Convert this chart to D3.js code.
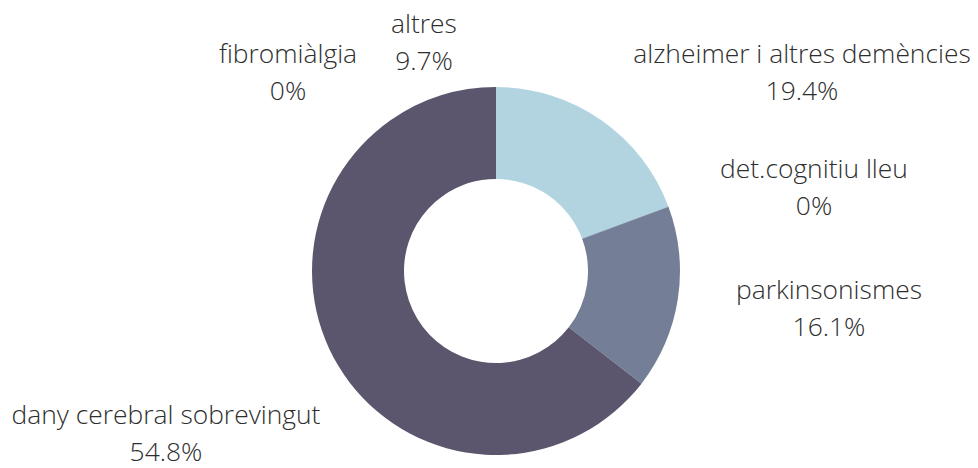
<!DOCTYPE html>
<html><head><meta charset="utf-8">
<script src="https://cdn.jsdelivr.net/npm/d3@7"></script>
<style>
html,body{margin:0;padding:0;background:#fff;}
text{font-family:"Open Sans",sans-serif;font-weight:300;fill:#2e2e2e;}
</style></head>
<body><svg id="c" width="978" height="468"></svg>
<script>
const categories = ["alzheimer i altres demències","det.cognitiu lleu","parkinsonismes","dany cerebral sobrevingut","fibromiàlgia","altres"];
const values = [6, 0, 5, 17, 0, 3];
const colors = ["#b2d4e0","#939db3","#747e97","#5b566e","#4a455d","#5b566e"];
// label anchor layout (centre x, first baseline y)
const labelLayout = [[802,63],[814,178],[829,299],[166,424],[288,63],[424,33]];

const svg = d3.select("#c");
const cx = 496, cy = 271, R = 184, r0 = 92;
const total = d3.sum(values);
const pie = d3.pie().sort(null).value(d => d.v);
const data = categories.map((c,i)=>({c, v: values[i], col: colors[i], lab: labelLayout[i]}));
const arcs = pie(data);
const arc = d3.arc().innerRadius(r0).outerRadius(R);
const g = svg.append("g").attr("transform",`translate(${cx},${cy})`);
g.selectAll("path").data(arcs).join("path")
  .attr("d", arc)
  .attr("fill", d=>d.data.col)
  .attr("stroke", d=>d.data.v===0 ? d.data.col : "none")
  .attr("stroke-width", 0.6);
const fmt = v => { const p = v/total*100; return (p===0? "0" : d3.format(".1f")(p)) + "%"; };
const fs = 26.4;
const lg = svg.append("g");
const t = lg.selectAll("text").data(arcs).join("text")
  .attr("text-anchor","middle")
  .attr("font-size", fs)
  .attr("x", d=>d.data.lab[0])
  .attr("y", d=>d.data.lab[1]);
t.append("tspan").attr("x", d=>d.data.lab[0]).text(d=>d.data.c);
t.append("tspan").attr("x", d=>d.data.lab[0]).attr("dy", 37).text(d=>fmt(d.data.v));
</script></body></html>
